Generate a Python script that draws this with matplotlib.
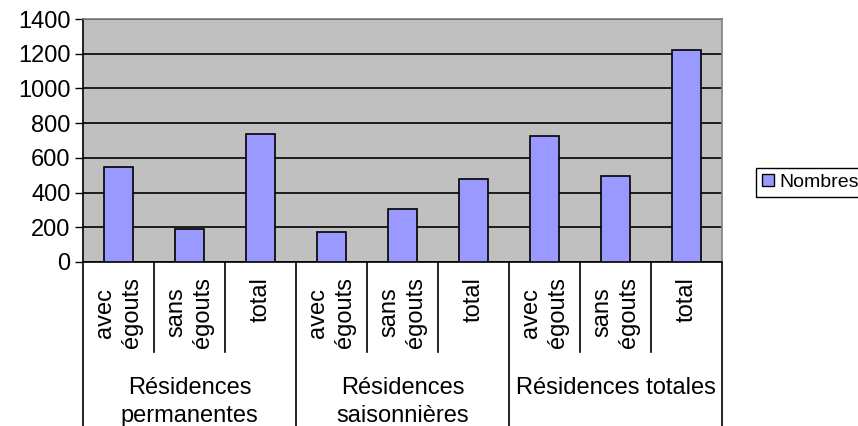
import numpy as np
import matplotlib
matplotlib.use("Agg")
import matplotlib.pyplot as plt
from matplotlib import transforms
from matplotlib.patches import Patch

plt.rcParams['font.family'] = ['Liberation Sans', 'DejaVu Sans']

# data
groups = ["Résidences\npermanentes", "Résidences\nsaisonnières", "Résidences totales"]
sub_labels = ["avec\négouts", "sans\négouts", "total"]
values = [550, 190, 740, 175, 305, 480, 725, 495, 1220]
series_name = "Nombres"

n = len(values)
x = np.arange(n)
fs = 17

fig = plt.figure(figsize=(8.58, 4.26), dpi=100)
ax = fig.add_axes([83/858, 1-262/426, 639/858, 243/426])
ax.set_facecolor('#c0c0c0')

ax.bar(x, values, width=0.41, color='#9999ff', edgecolor='black', linewidth=1.2, zorder=3)

ax.set_xlim(-0.5, n-0.5)
ax.set_ylim(0, 1400)
ax.set_yticks(np.arange(0, 1401, 200))
ax.yaxis.grid(True, color='black', linewidth=1.2, zorder=1)
ax.tick_params(axis='y', labelsize=fs, length=6, width=1, direction='out', pad=3)
ax.set_xticks([])

for s in ['top', 'right']:
    ax.spines[s].set_color('#808080')
    ax.spines[s].set_linewidth(1.2)
for s in ['left', 'bottom']:
    ax.spines[s].set_color('black')
    ax.spines[s].set_linewidth(1.2)

# hierarchical category axis
tr = transforms.blended_transform_factory(ax.transData, fig.transFigure)
y0 = 1 - 262/426
y_sub = 1 - 352/426
for b in np.arange(-0.5, n, 1.0):
    is_group = abs((b + 0.5) % 3) < 1e-9
    ybot = 0.0 if is_group else y_sub
    ax.plot([b, b], [y0, ybot], transform=tr, color='black', lw=1.2, clip_on=False)

for i in range(n):
    ax.text(i, 1 - 277/426, sub_labels[i % 3], transform=tr, rotation=90,
            ha='center', va='top', multialignment='center', fontsize=fs,
            linespacing=1.3)

for g, name in enumerate(groups):
    ax.text(3*g + 1, 1 - 377/426, name, transform=tr, ha='center', va='top',
            fontsize=fs, linespacing=1.35)

handle = Patch(facecolor='#9999ff', edgecolor='black', linewidth=1)
fig.legend([handle], [series_name], loc='upper left',
           bbox_to_anchor=(756/858, 1 - 168/426), fontsize=14,
           fancybox=False, edgecolor='black', framealpha=1,
           handlelength=0.6, handleheight=0.6, handletextpad=0.3,
           borderpad=0.3, borderaxespad=0)

fig.savefig('out.png', dpi=100)
